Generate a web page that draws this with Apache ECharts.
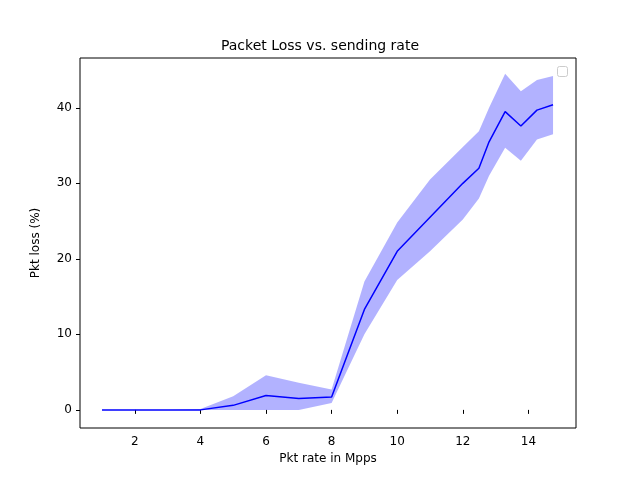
<html>
<head>
<meta charset="UTF-8">
<style>html,body{margin:0;width:100%;height:100%;background:#fff}#c{width:640px;height:480px}</style>
</head>
<body>
<div id="c"></div>
<script src="https://cdn.jsdelivr.net/npm/echarts@6/dist/echarts.min.js"></script>
<script>
var rates = [1, 2, 3, 4, 5, 6, 7, 8, 9, 10, 11, 12, 12.49, 12.8, 13.29, 13.77, 14.26, 14.75];
var lossMean = [0, 0, 0, 0, 0.6, 1.9, 1.5, 1.7, 13.3, 21, 25.5, 30, 32, 35.5, 39.5, 37.6, 39.7, 40.4];
var lossLow = [0, 0, 0, 0, 0, 0, 0, 0.9, 10, 17.2, 21, 25.2, 28, 31, 34.7, 33, 35.8, 36.5];
var lossHigh = [0, 0, 0, 0.1, 1.8, 4.6, 3.6, 2.7, 17, 24.8, 30.5, 34.8, 36.9, 40, 44.5, 42.2, 43.7, 44.2];

function pairs(ys) { return rates.map(function (x, i) { return [x, ys[i]]; }); }

var chart = echarts.init(document.getElementById('c'));
var font = 'DejaVu Sans';
var ticksX = [2, 4, 6, 8, 10, 12, 14], ticksY = [0, 10, 20, 30, 40];
chart.setOption({
  animation: false,
  textStyle: { fontFamily: font },
  title: { text: 'Packet Loss vs. sending rate', left: 'center', top: 34,
    textStyle: { fontFamily: font, fontSize: 14, fontWeight: 'normal', color: '#000' } },
  grid: { left: 80, right: 64, top: 58, bottom: 52, show: true, borderColor: '#000', borderWidth: 1 },
  xAxis: { type: 'value', min: 0.33, max: 15.45,
    name: 'Pkt rate in Mpps', nameLocation: 'middle', nameGap: 24,
    nameTextStyle: { fontSize: 12, color: '#000' },
    axisLine: { show: false }, splitLine: { show: false },
    axisLabel: { color: '#000', fontSize: 12, customValues: ticksX },
    axisTick: { customValues: ticksX, length: 4, lineStyle: { color: '#000' } } },
  yAxis: { type: 'value', min: -2.4, max: 46.6,
    name: 'Pkt loss (%)', nameLocation: 'middle', nameGap: 38,
    nameTextStyle: { fontSize: 12, color: '#000' },
    axisLine: { show: false }, splitLine: { show: false },
    axisLabel: { color: '#000', fontSize: 12, customValues: ticksY },
    axisTick: { customValues: ticksY, length: 4, lineStyle: { color: '#000' } } },
  graphic: [{ type: 'rect', right: 72, top: 66, shape: { width: 10, height: 10, r: 2 },
    style: { fill: '#fff', stroke: '#ccc', lineWidth: 1 } }],
  series: [
    { type: 'custom', data: [0],
      renderItem: function (params, api) {
        var pts = [];
        for (var i = 0; i < rates.length; i++) pts.push(api.coord([rates[i], lossHigh[i]]));
        for (var j = rates.length - 1; j >= 0; j--) pts.push(api.coord([rates[j], lossLow[j]]));
        return { type: 'polygon', shape: { points: pts }, style: { fill: 'rgba(0,0,255,0.3)' } };
      } },
    { type: 'line', data: pairs(lossMean), symbol: 'none', lineStyle: { color: '#0000ff', width: 1.5 } }
  ]
});
</script>
</body>
</html>
